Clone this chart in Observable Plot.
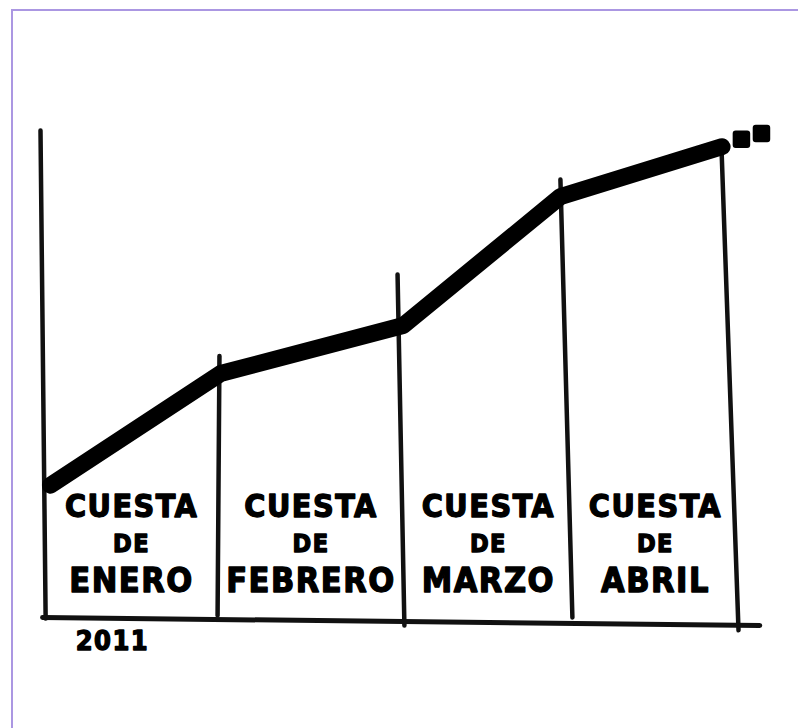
<!DOCTYPE html>
<html><head><meta charset="utf-8">
<script src="https://cdn.jsdelivr.net/npm/d3@7"></script>
<script src="https://cdn.jsdelivr.net/npm/@observablehq/plot@0.6"></script>
<style>
body{margin:0;background:#fff;}
#wrap{position:relative;width:798px;height:728px;overflow:hidden;background:#fff;}
#wrap svg{position:absolute;left:0;top:0;}
#frame{position:absolute;left:11px;top:9px;width:800px;height:730px;border-left:2px solid #ab97e2;border-top:2px solid #ab97e2;pointer-events:none;}
</style></head>
<body><div id="wrap"><div id="frame"></div></div>
<script>
// ---- data (x in month units, y in arbitrary "cost" units) ----
const months = ["ENERO", "FEBRERO", "MARZO", "ABRIL"];
const wordTop = "CUESTA";
const wordMid = "DE";
const yearLabel = "2011";
// hand-drawn month boundaries: top and bottom ends of each rule
const ruleTopX = [0, 1.045, 2.085, 3.036, 3.977];
const ruleTopY = [100, 54, 70.6, 90, 96];
const ruleBottomX = [0.03, 1.034, 2.125, 3.106, 4.076];
const ruleBottomY = [0.4, 1.0, -1.0, 0.6, -2.0];
// base line
const baseX = [0.012, 4.2];
const baseY = [0.6, -1.0];
// rising cost line
const lineX = [0.058, 1.051, 2.118, 3.036, 3.98];
const lineY = [27.6, 50.4, 60.2, 86.5, 96.7];
// continuation dots
const dotsX = [4.093, 4.21];
const dotsY = [98.2, 99.4];

const rules = ruleTopX.map((x, i) => ({x1: x, y1: ruleTopY[i], x2: ruleBottomX[i], y2: ruleBottomY[i]}));
const base = baseX.map((x, i) => ({x, y: baseY[i]}));
const line = lineX.map((x, i) => ({x, y: lineY[i]}));
const dots = dotsX.map((x, i) => ({x, y: dotsY[i]}));
const labels = months.map((m, i) => ({month: m, x: (ruleBottomX[i] + ruleBottomX[i + 1]) / 2}));

const font = "'DejaVu Sans Condensed', 'DejaVu Sans', sans-serif";
const txt = {fontFamily: font, fontWeight: "bold", fill: "#000", stroke: "#000", strokeWidth: 1.3, textAnchor: "middle", lineAnchor: "middle"};

const chart = Plot.plot({
  width: 798, height: 728, margin: 0,
  x: {domain: [0, 4], range: [40, 725], axis: null},
  y: {domain: [0, 100], range: [620, 130], axis: null},
  style: {background: "transparent", letterSpacing: "1.5px", overflow: "visible"},
  marks: [
    Plot.link(rules, {x1: "x1", y1: "y1", x2: "x2", y2: "y2", stroke: "#111", strokeWidth: 4.5, strokeLinecap: "round"}),
    Plot.line(base, {x: "x", y: "y", stroke: "#111", strokeWidth: 5, strokeLinecap: "round"}),
    Plot.line(line, {x: "x", y: "y", stroke: "#000", strokeWidth: 17, strokeLinejoin: "round", strokeLinecap: "round"}),
    Plot.dot(dots, {x: "x", y: "y", r: 6.5, symbol: "square", fill: "#000", stroke: "#000", strokeWidth: 6, strokeLinejoin: "round"}),
    Plot.text(labels, {...txt, x: "x", y: 23.3, text: () => wordTop, fontSize: 32}),
    Plot.text(labels, {...txt, x: "x", y: 15.6, text: () => wordMid, fontSize: 25}),
    Plot.text(labels, {...txt, x: "x", y: 8.0, text: "month", fontSize: 34}),
    Plot.text([yearLabel], {...txt, x: 0.42, y: -4.3, text: d => d, fontSize: 27})
  ]
});
document.getElementById("wrap").insertBefore(chart, document.getElementById("frame"));
</script>
</body></html>
